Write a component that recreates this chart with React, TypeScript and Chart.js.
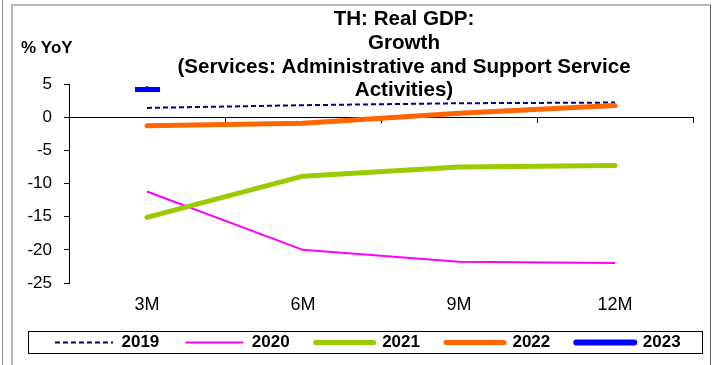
import React, { useEffect, useRef } from 'react';
import { Chart, registerables } from 'chart.js';

Chart.register(...registerables);

const categories = ['3M', '6M', '9M', '12M'];
const seriesNames = ['2019', '2020', '2021', '2022', '2023'];
const values2019 = [1.4, 1.8, 2.1, 2.2];
const values2020 = [-11.2, -20.0, -21.8, -22.0];
const values2021 = [-15.1, -8.9, -7.5, -7.3];
const values2022 = [-1.3, -0.9, 0.6, 1.75];
const values2023: (number | null)[] = [4.2, null, null, null];
const yMin = -25;
const yMax = 5;
const yStep = 5;
const titleLines = ['TH: Real GDP:', 'Growth', '(Services: Administrative and Support Service', 'Activities)'];
const yAxisTitle = '% YoY';

const FONT = 'Arial, "Liberation Sans", sans-serif';

const decorPlugin = {
  id: 'decor',
  afterLayout(chart: any) {
    // let the category labels below the plot extend past their box, and place the legend row
    const sx = chart.scales.x;
    if (sx) sx.bottom = sx.top + 45;
    if (chart.legend) {
      chart.legend.left = 29;
      chart.legend.right = 780;
    }
  },
  beforeDraw(chart: any) {
    const ctx = chart.ctx;
    ctx.save();
    ctx.fillStyle = '#ffffff';
    ctx.fillRect(0, 0, chart.width, chart.height);
    ctx.strokeStyle = '#8a8a8a';
    ctx.lineWidth = 1;
    ctx.beginPath();
    ctx.moveTo(2.5, 0);
    ctx.lineTo(2.5, chart.height);
    ctx.stroke();
    ctx.strokeStyle = '#b8b8b8';
    ctx.lineWidth = 2;
    ctx.beginPath();
    ctx.moveTo(12, chart.height);
    ctx.lineTo(12, 5);
    ctx.lineTo(711, 5);
    ctx.stroke();
    ctx.strokeStyle = '#606060';
    ctx.lineWidth = 1;
    ctx.beginPath();
    ctx.moveTo(710.5, 5);
    ctx.lineTo(710.5, chart.height);
    ctx.stroke();
    ctx.restore();
  },
  afterDraw(chart: any) {
    const ctx = chart.ctx;
    ctx.save();
    ctx.fillStyle = '#000';
    ctx.textAlign = 'center';
    ctx.textBaseline = 'alphabetic';
    ctx.font = `bold 20.6px ${FONT}`;
    const baselines = [25, 49, 73, 96];
    titleLines.forEach((t, i) => ctx.fillText(t, 404, baselines[i]));
    ctx.textAlign = 'left';
    ctx.font = `bold 17px ${FONT}`;
    ctx.fillText(yAxisTitle, 21, 53);
    ctx.strokeStyle = '#000';
    ctx.lineWidth = 1;
    ctx.strokeRect(28.5, 331.5, 674, 22);
    ctx.restore();
  },
};

function makeDashMarker(color: string) {
  const c = document.createElement('canvas');
  c.width = 25;
  c.height = 5;
  const g = c.getContext('2d');
  if (g) {
    g.fillStyle = color;
    g.fillRect(0, 0, 25, 5);
  }
  return c;
}

export default function App() {
  const ref = useRef<HTMLCanvasElement | null>(null);
  useEffect(() => {
    if (!ref.current) return;
    const colors = ['#000080', '#FF00FF', '#99CC00', '#FF6600', '#0000FF'];
    const widths = [2, 2, 5, 5, 6];
    const dashes = [[5, 3], [], [], [], []];
    const caps = ['butt', 'butt', 'round', 'round', 'round'];
    const allData = [values2019, values2020, values2021, values2022, values2023];
    const marker = makeDashMarker(colors[4]);
    const datasets = seriesNames.map((name, i) => ({
      label: name,
      data: allData[i],
      borderColor: colors[i],
      backgroundColor: colors[i],
      borderWidth: widths[i],
      borderDash: dashes[i],
      borderCapStyle: caps[i],
      borderJoinStyle: 'round',
      pointRadius: i === 4 ? 12.5 : 0,
      pointHoverRadius: i === 4 ? 12.5 : 0,
      pointStyle: i === 4 ? marker : 'line',
      pointBorderWidth: 0,
      tension: 0,
      fill: false,
      order: 5 - i,
    }));
    const chart = new Chart(ref.current, {
      type: 'line',
      data: { labels: categories, datasets: datasets as any },
      plugins: [decorPlugin],
      options: {
        animation: false,
        responsive: false,
        devicePixelRatio: 1,
        layout: { padding: { top: 84, left: 0, right: 19, bottom: 4 } },
        plugins: {
          title: { display: false },
          tooltip: { enabled: false },
          legend: {
            display: true,
            position: 'bottom',
            align: 'start',
            labels: {
              usePointStyle: true,
              pointStyleWidth: 58,
              padding: 26,
              color: '#000',
              font: { family: FONT, size: 17, weight: 'bold' },
              generateLabels: (c: any) =>
                c.data.datasets.map((ds: any, i: number) => ({
                  text: ds.label,
                  fillStyle: ds.borderColor,
                  strokeStyle: ds.borderColor,
                  lineWidth: widths[i],
                  lineDash: dashes[i],
                  lineCap: caps[i],
                  pointStyle: 'line',
                  hidden: false,
                  datasetIndex: i,
                  fontColor: '#000',
                })),
            },
          },
        },
        scales: {
          x: {
            type: 'category',
            offset: true,
            position: 'bottom',
            grid: { display: false, drawTicks: false, tickLength: 0 },
            border: { display: false },
            ticks: { color: '#000', font: { family: FONT, size: 18 }, padding: 11, maxRotation: 0 },
            afterFit: (s: any) => { s.height = 25; },
          },
          x2: {
            type: 'category',
            axis: 'x',
            labels: categories,
            offset: true,
            position: { y: 0 },
            grid: { offset: true, drawOnChartArea: false, drawTicks: true, tickLength: 5, color: '#000' },
            border: { display: true, color: '#000', width: 1 },
            ticks: { display: false },
          },
          y: {
            min: yMin,
            max: yMax,
            ticks: { stepSize: yStep, color: '#000', font: { family: FONT, size: 17 }, padding: 12 },
            grid: { drawOnChartArea: false, drawTicks: true, tickLength: 5, color: '#000' },
            border: { display: true, color: '#000', width: 1 },
            afterFit: (s: any) => { s.width = 69; },
          },
        } as any,
      },
    });
    return () => chart.destroy();
  }, []);
  return (
    <canvas
      ref={ref}
      width={712}
      height={365}
      style={{ position: 'fixed', left: 0, top: 0, width: 712, height: 365 }}
    />
  );
}
